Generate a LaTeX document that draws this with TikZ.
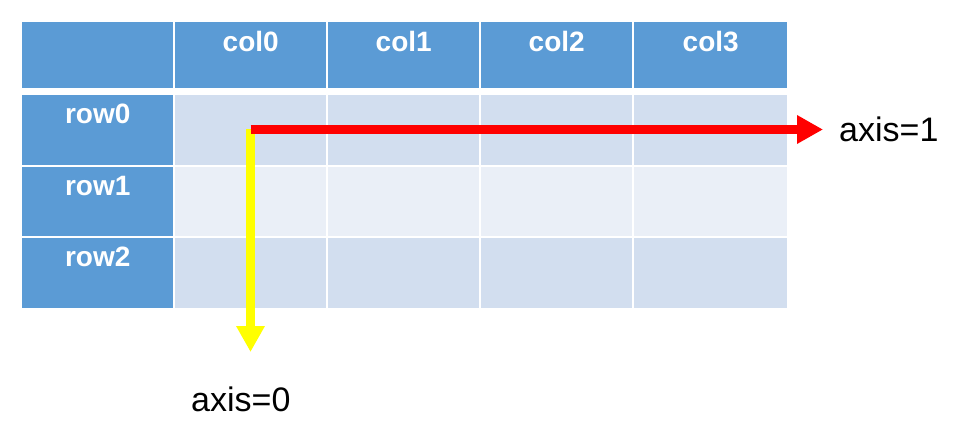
\documentclass[tikz,border=0pt]{standalone}
\usepackage{fontspec}
\setmainfont{Liberation Sans}
\usetikzlibrary{arrows.meta}
\definecolor{headblue}{HTML}{5B9BD5}
\definecolor{celldark}{HTML}{D2DEEF}
\definecolor{celllight}{HTML}{EAEFF7}
\definecolor{axisred}{HTML}{FF0000}
\definecolor{axisyellow}{HTML}{FFFF00}

\tikzset{
  cell/.style={rectangle,inner sep=0pt,anchor=north west},
  headtext/.style={anchor=base,inner sep=0pt,text=white,font=\fontsize{28}{28}\selectfont\bfseries},
  axistext/.style={anchor=base west,inner sep=0pt,font=\fontsize{34}{34}\selectfont},
  axisarrow/.style={line width=9pt,-{Triangle[length=26pt,width=27pt]}},
}

\begin{document}
\begin{tikzpicture}[x=1pt,y=-1pt]
                \useasboundingbox (0,0) rectangle (960,427);
                % header row
                \node[cell,fill=headblue,minimum width=151pt,minimum height=66pt] (corner) at (22,22) {};
                \foreach \c/\x/\w in {0/175/151,1/328/151,2/481/151,3/634/153}{
                    \node[cell,fill=headblue,minimum width=\w pt,minimum height=66pt] (col\c) at (\x,22) {};
                    \node[headtext] (coltext\c) at ([yshift=-30pt]col\c.north) {col\c};
                }
                % rows
                \foreach \r/\y/\h/\f in {0/95/70/celldark,1/167/69/celllight,2/238/70/celldark}{
                    \node[cell,fill=headblue,minimum width=151pt,minimum height=\h pt] (row\r) at (22,\y) {};
                    \node[headtext] (rowtext\r) at ([yshift=-29pt]row\r.north) {row\r};
                    \foreach \c/\x/\w in {0/175/151,1/328/151,2/481/151,3/634/153}{
                        \node[cell,fill=\f,minimum width=\w pt,minimum height=\h pt] (c\r\c) at (\x,\y) {};
                    }
                }
                % axes
                \coordinate (origin) at (250.5,129.5);
                \coordinate (xend) at (823,129.5);
                \coordinate (yend) at (250.5,352);
                \node[axistext] (axis1) at (839,142) {axis=1};
                \node[axistext] (axis0) at (191,411.5) {axis=0};
                \draw[axisarrow,draw=axisyellow,fill=axisyellow] (origin) -- (yend);
                \draw[axisarrow,draw=axisred,fill=axisred] (origin) -- (xend);
\end{tikzpicture}
\end{document}
